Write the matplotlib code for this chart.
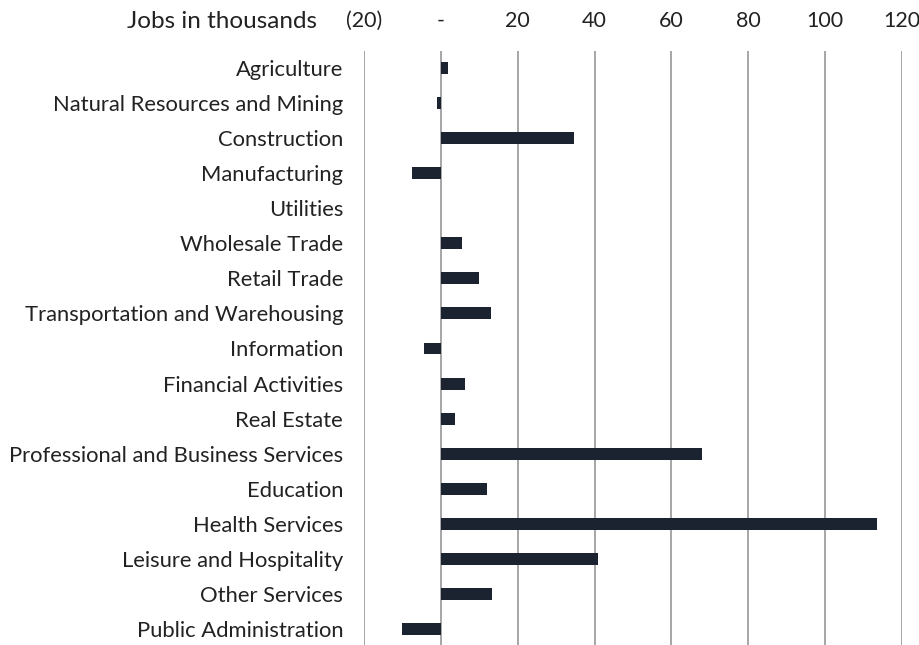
import matplotlib
matplotlib.use("Agg")
import matplotlib.pyplot as plt

# Net job change by industry, in thousands
industries = [
    "Agriculture",
    "Natural Resources and Mining",
    "Construction",
    "Manufacturing",
    "Utilities",
    "Wholesale Trade",
    "Retail Trade",
    "Transportation and Warehousing",
    "Information",
    "Financial Activities",
    "Real Estate",
    "Professional and Business Services",
    "Education",
    "Health Services",
    "Leisure and Hospitality",
    "Other Services",
    "Public Administration",
]
jobs_change = [1.9, -1.0, 34.7, -7.4, 0.0, 5.4, 9.8, 13.1, -4.4, 6.4, 3.6,
               68.0, 12.1, 113.4, 40.8, 13.3, -10.2]

x_ticks = [-20, 0, 20, 40, 60, 80, 100, 120]
x_tick_labels = ["(20)", "-", "20", "40", "60", "80", "100", "120"]

plt.rcParams["font.family"] = ["Lato", "DejaVu Sans"]

fig = plt.figure(figsize=(9.2, 6.45), dpi=100)
ax = fig.add_axes([0.3957, -0.0023, 0.5848, 0.924])

ypos = list(range(len(industries)))
ax.barh(ypos, jobs_change, height=0.34, color="#1b2331", linewidth=0,
        zorder=3)

ax.set_xlim(-20, 120)
ax.set_ylim(len(industries) - 0.5, -0.5)

ax.set_xticks(x_ticks)
ax.set_xticklabels(x_tick_labels)
ax.xaxis.tick_top()
ax.set_yticks(ypos)
ax.set_yticklabels(industries)

ax.tick_params(axis="x", length=0, pad=14, labelsize=15.5, labelcolor="#222222")
ax.tick_params(axis="y", length=0, pad=15, labelsize=15.8, labelcolor="#222222")

for xv in x_ticks:
    ax.axvline(xv, color="#a6a6a6", linewidth=1.4, zorder=1)

for s in ax.spines.values():
    s.set_visible(False)

fig.text(0.345, 0.966, "Jobs in thousands", ha="right", va="center",
         fontsize=17.5, color="#222222")

fig.savefig("out.png", dpi=100, facecolor="white")
